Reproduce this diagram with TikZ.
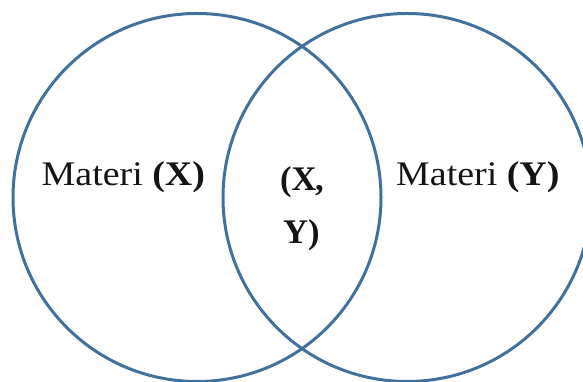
\documentclass[tikz,border=0pt]{standalone}
\usepackage{fontspec}
\setmainfont{Liberation Serif}[FakeStretch=1.1]
\newfontfamily\midfont{Liberation Serif}
\definecolor{vennline}{RGB}{65,113,156}
\definecolor{vtext}{RGB}{20,20,20}
\begin{document}
\begin{tikzpicture}[x=1pt,y=1pt,
  venn/.style={circle,draw=vennline,line width=3pt,inner sep=0pt,minimum size=368pt},
  lbl/.style={anchor=base west,inner sep=0pt,text=vtext,font=\fontsize{34.5}{40}\selectfont}]
\useasboundingbox (0,0) rectangle (583,382);
\begin{scope}
\clip (0,0) rectangle (583,382);
\node[venn] (A) at (197,184.5) {};
\node[venn] (B) at (407,184.5) {};
\end{scope}
\node[lbl] (la) at (41.5,196) {Materi \textbf{(X)}};
\node[lbl] (lb) at (396,196) {Materi \textbf{(Y)}};
\node[lbl] (m1) at (280,191) {\midfont\textbf{(X\kern-1.5pt,}};
\node[lbl] (m2) at (283,138.5) {\midfont\textbf{Y)}};
\end{tikzpicture}
\end{document}
